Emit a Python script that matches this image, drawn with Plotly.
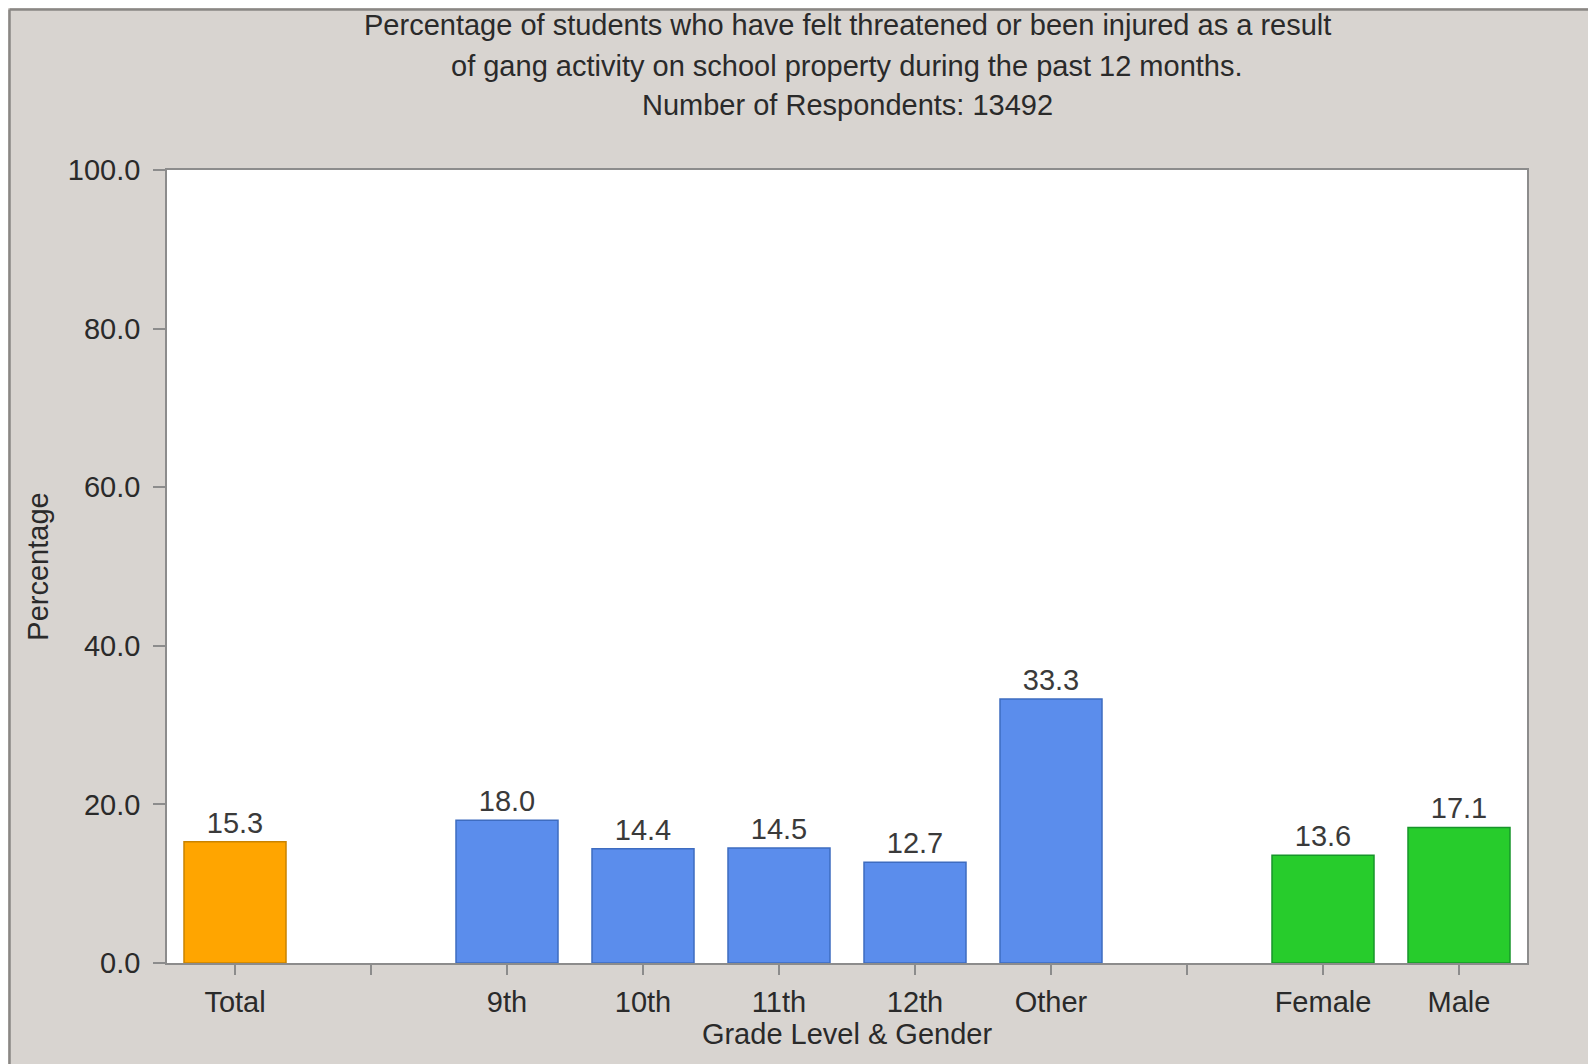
import plotly.graph_objects as go

categories = ["Total", " ", "9th", "10th", "11th", "12th", "Other", "  ", "Female", "Male"]
values = [15.3, None, 18.0, 14.4, 14.5, 12.7, 33.3, None, 13.6, 17.1]
fill_colors = ["#FFA500", "#FFFFFF", "#5B8DEC", "#5B8DEC", "#5B8DEC", "#5B8DEC", "#5B8DEC",
               "#FFFFFF", "#27CC2C", "#27CC2C"]
edge_colors = ["#C98300", "#FFFFFF", "#3E6CC0", "#3E6CC0", "#3E6CC0", "#3E6CC0", "#3E6CC0",
               "#FFFFFF", "#17952A", "#17952A"]
y_ticks = [0, 20, 40, 60, 80, 100]
title_lines = [
    "Percentage of students who have felt threatened or been injured as a result",
    "of gang activity on school property during the past 12 months.",
    "Number of Respondents: 13492",
]

# page is offset by the browser's default 8px body margin
OFF = 8
W, H = 1596 - OFF, 1064 - OFF
# plot area in page pixels
L, R, T, B = 167, 1527, 170, 963
FONT = "Liberation Sans, Arial, sans-serif"
TXT = "#2a2a2a"
FS = 29

def px_to_paper(px, py):
    return (px - L) / (R - L), (B - py) / (B - T)

fig = go.Figure(
    go.Bar(
        x=categories,
        y=values,
        marker=dict(color=fill_colors, line=dict(color=edge_colors, width=1.5)),
        width=0.75,
        text=[("%.1f" % v) if v is not None else "" for v in values],
        textposition="outside",
        cliponaxis=False,
        textfont=dict(family=FONT, size=FS, color="#3a3a3a"),
        hoverinfo="x+y",
    )
)

annotations = []
for line, py in zip(title_lines, [25, 66, 105]):
    _, yp = px_to_paper(0, py)
    annotations.append(dict(
        text=line, x=0.5, y=yp, xref="paper", yref="paper",
        xanchor="center", yanchor="middle", showarrow=False,
        font=dict(family=FONT, size=FS, color=TXT),
    ))

shapes = []
lx, _ = px_to_paper(OFF + 1.5, 0)
_, ty = px_to_paper(0, OFF + 1.5)
_, by = px_to_paper(0, 1064)
rx, _ = px_to_paper(1596, 0)
shapes.append(dict(type="line", xref="paper", yref="paper", x0=lx, x1=lx, y0=by, y1=ty,
                   line=dict(color="#8a8784", width=2.5)))
shapes.append(dict(type="line", xref="paper", yref="paper", x0=lx, x1=rx, y0=ty, y1=ty,
                   line=dict(color="#8a8784", width=2.5)))

fig.update_layout(
    width=W, height=H,
    margin=dict(l=L - OFF, r=1596 - R, t=T - OFF, b=1064 - B, pad=0),
    paper_bgcolor="#d8d4d0",
    plot_bgcolor="#ffffff",
    showlegend=False,
    bargap=0.25,
    annotations=annotations,
    shapes=shapes,
    font=dict(family=FONT, color=TXT),
)

fig.update_xaxes(
    type="category",
    categoryorder="array", categoryarray=categories,
    showline=True, linecolor="#8c8c8c", linewidth=1.5, mirror=True,
    ticks="outside", ticklen=10, tickcolor="#8c8c8c", tickwidth=1.5,
    tickfont=dict(family=FONT, size=FS, color=TXT),
    ticklabelstandoff=2,
    showgrid=False,
    title=dict(text="Grade Level & Gender", font=dict(family=FONT, size=FS, color=TXT), standoff=0),
)
fig.update_yaxes(
    range=[0, 100],
    tickvals=y_ticks,
    ticktext=["%.1f" % v for v in y_ticks],
    showline=True, linecolor="#8c8c8c", linewidth=1.5, mirror=True,
    ticks="outside", ticklen=12, tickcolor="#8c8c8c", tickwidth=1.5,
    tickfont=dict(family=FONT, size=FS, color=TXT),
    ticklabelstandoff=7,
    showgrid=False, zeroline=False,
    title=dict(text="Percentage", font=dict(family=FONT, size=FS, color=TXT), standoff=11),
)

fig.write_html("out.html")
